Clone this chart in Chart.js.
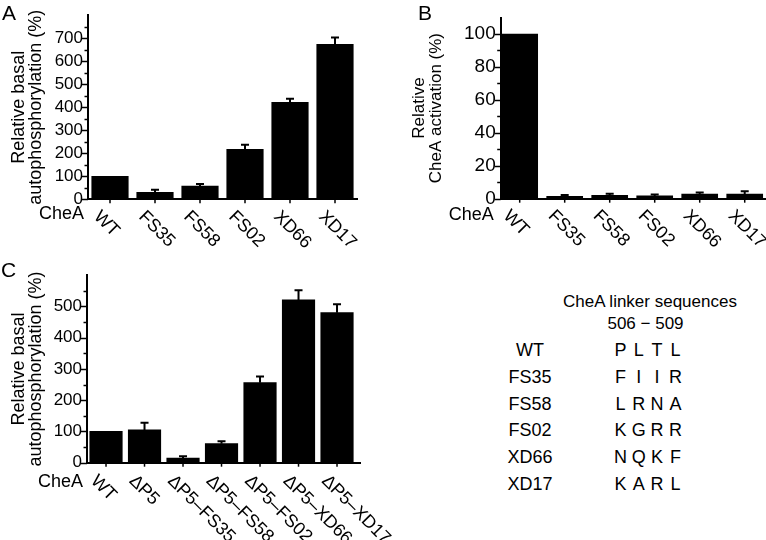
<!DOCTYPE html>
<html><head><meta charset="utf-8">
<script src="https://cdn.jsdelivr.net/npm/chart.js@4.4.1/dist/chart.umd.min.js"></script>
<style>
html,body{margin:0;padding:0;background:#fff;}
#wrap{position:relative;width:766px;height:540px;overflow:hidden;font-family:'Liberation Sans',Arial,sans-serif;color:#000;}
canvas{position:absolute;}
.t{position:absolute;white-space:nowrap;}
</style></head><body><div id="wrap">
<canvas id="cA" width="372" height="262" style="left:0;top:0"></canvas>
<canvas id="cB" width="386" height="262" style="left:380px;top:0"></canvas>
<canvas id="cC" width="420" height="280" style="left:0;top:260px"></canvas>
</div>
<script>
// ---- data ----
const panelACategories = ['WT', 'FS35', 'FS58', 'FS02', 'XD66', 'XD17'];
const panelAValues = [100, 30, 57, 217, 421, 673];
const panelAErrors = [0, 12, 9, 20, 16, 30];

const panelBCategories = ['WT', 'FS35', 'FS58', 'FS02', 'XD66', 'XD17'];
const panelBValues = [100, 1.5, 2.0, 1.7, 2.8, 2.8];
const panelBErrors = [0, 0.8, 1.0, 0.8, 0.9, 1.7];

const panelCCategories = ['WT', 'ΔP5', 'ΔP5–FS35', 'ΔP5–FS58', 'ΔP5–FS02', 'ΔP5–XD66', 'ΔP5–XD17'];
const panelCValues = [100, 105, 15, 61, 256, 521, 480];
const panelCErrors = [0, 23, 6, 8, 20, 31, 27];

const axisPrefix = 'CheA';
const panelLetters = ['A', 'B', 'C'];
const titleA = ['Relative basal', 'autophosphorylation (%)'];
const titleB = ['Relative', 'CheA activation (%)'];
const titleC = ['Relative basal', 'autophosphorylation (%)'];

const tableHeader = 'CheA linker sequences';
const tableRange = '506 − 509';
const tableNames = ['WT', 'FS35', 'FS58', 'FS02', 'XD66', 'XD17'];
const tableSeqs = ['PLTL', 'FIIR', 'LRNA', 'KGRR', 'NQKF', 'KARL'];

// ---- rendering ----
const FONT = "'Liberation Sans', Arial, sans-serif";
Chart.defaults.font.family = FONT;
Chart.defaults.color = '#000';

const decor = {
  id: 'decor',
  afterDatasetsDraw(chart, args, o) {
    const {ctx, chartArea: ca, scales: {x, y}} = chart;
    const meta = chart.getDatasetMeta(0);
    ctx.save();
    ctx.strokeStyle = '#000';
    ctx.fillStyle = '#000';
    // error bars
    ctx.lineWidth = 2;
    meta.data.forEach((bar, i) => {
      const e = o.errors[i];
      if (!e) return;
      const v = o.values[i];
      const y0 = y.getPixelForValue(v), y1 = y.getPixelForValue(v + e);
      ctx.beginPath();
      ctx.moveTo(bar.x, y0); ctx.lineTo(bar.x, y1);
      ctx.moveTo(bar.x - 4, y1); ctx.lineTo(bar.x + 4, y1);
      ctx.stroke();
    });
    // y tick marks
    ctx.lineWidth = 1.5;
    for (let v = 0; v < o.yMax - 1e-9; v += o.minor) {
      const len = (Math.abs(v % o.major) < 1e-9) ? 6 : 3.5;
      const py = Math.round(y.getPixelForValue(v)) + 0.5;
      ctx.beginPath(); ctx.moveTo(ca.left - len, py); ctx.lineTo(ca.left, py); ctx.stroke();
    }
    // x tick marks + rotated labels
    ctx.font = o.labelSize + 'px ' + FONT;
    ctx.textAlign = 'left';
    ctx.textBaseline = 'alphabetic';
    o.labels.forEach((lab, i) => {
      const px = x.getPixelForValue(i);
      ctx.beginPath(); ctx.moveTo(px, ca.bottom); ctx.lineTo(px, ca.bottom + 4); ctx.stroke();
      ctx.save();
      ctx.translate(px + o.ldx, ca.bottom + o.ldy);
      ctx.rotate(Math.PI / 4);
      ctx.fillText(lab, 0, 0.716 * o.labelSize);
      ctx.restore();
    });
    // CheA prefix
    ctx.font = '18px ' + FONT;
    ctx.textAlign = 'right';
    ctx.fillText(axisPrefix, ca.left + o.cdx, ca.bottom + o.cdy);
    ctx.restore();
  }
};

function makePanel(id, c) {
  return new Chart(document.getElementById(id), {
    type: 'bar',
    data: {
      datasets: [{
        data: c.values.map((v, i) => ({x: i, y: v})),
        backgroundColor: '#000',
        borderWidth: 0,
        barThickness: c.barW
      }]
    },
    options: {
      responsive: false,
      animation: false,
      devicePixelRatio: 1,
      layout: {padding: {top: c.padTop, right: c.padRight, left: 0, bottom: 0}},
      plugins: {
        legend: {display: false},
        tooltip: {enabled: false},
        decor: {
          values: c.values, errors: c.errors, labels: c.labels,
          yMax: c.yMax, minor: c.minor, major: c.major, labelSize: c.labelSize,
          ldx: c.ldx, ldy: c.ldy, cdx: c.cdx, cdy: c.cdy
        }
      },
      scales: {
        x: {
          type: 'linear', min: c.xMin, max: c.xMax, offset: false,
          grid: {display: false, drawTicks: false, offset: false},
          border: {display: true, color: '#000', width: 2},
          ticks: {display: false},
          afterFit: s => { s.height = c.xH; }
        },
        y: {
          type: 'linear', min: 0, max: c.yMax,
          grid: {display: false, drawTicks: false},
          border: {display: true, color: '#000', width: 2},
          ticks: {
            stepSize: c.minor, autoSkip: false, padding: 5, color: '#000',
            font: {size: c.tickSize},
            callback: v => (Math.abs(v % c.major) < 1e-9 && v < c.yMax) ? String(v) : ''
          },
          title: {
            display: true, text: c.title, color: '#000',
            font: {size: c.titleSize, lineHeight: 17 / c.titleSize},
            padding: {top: c.titlePad, bottom: 0}
          },
          afterFit: s => { s.width = c.yW; }
        }
      }
    },
    plugins: [decor]
  });
}

makePanel('cA', {
  values: panelAValues, errors: panelAErrors, labels: panelACategories, title: titleA,
  yMax: 800, minor: 50, major: 100, tickSize: 17, titleSize: 18, labelSize: 18,
  yW: 88, xH: 62.7, padTop: 2.4, padRight: 14.5,
  xMin: -0.489, xMax: 5.5, barW: 36.5, titlePad: 11,
  ldx: -8, ldy: 9, cdx: -4, cdy: 20
});
makePanel('cB', {
  values: panelBValues, errors: panelBErrors, labels: panelBCategories, title: titleB,
  yMax: 110, minor: 10, major: 20, tickSize: 19, titleSize: 17, labelSize: 18,
  yW: 120.7, xH: 63.3, padTop: 17.5, padRight: 0,
  xMin: -0.422, xMax: 5.473, barW: 36, titlePad: 31,
  ldx: -8, ldy: 9, cdx: -7, cdy: 21
});
makePanel('cC', {
  values: panelCValues, errors: panelCErrors, labels: panelCCategories, title: titleC,
  yMax: 600, minor: 50, major: 100, tickSize: 17, titleSize: 18, labelSize: 18,
  yW: 87, xH: 77.3, padTop: 6.3, padRight: 60,
  xMin: -0.494, xMax: 6.597, barW: 32.5, titlePad: 11,
  ldx: -7, ldy: 10, cdx: -4, cdy: 24
});

// ---- HTML text: panel letters and sequence table ----
const wrap = document.getElementById('wrap');
function addText(str, x, baseline, fs, align) {
  const d = document.createElement('div');
  d.className = 't';
  d.textContent = str;
  d.style.fontSize = fs + 'px';
  d.style.lineHeight = (fs * 1.117) + 'px';
  d.style.top = (baseline - 0.905 * fs) + 'px';
  d.style.left = x + 'px';
  if (align === 'center') d.style.transform = 'translateX(-50%)';
  wrap.appendChild(d);
}
const letterPos = [[2, 20], [418, 20], [1, 277]];
panelLetters.forEach((L, i) => addText(L, letterPos[i][0], letterPos[i][1], 21, 'left'));

addText(tableHeader, 650, 307, 17, 'center');
addText(tableRange, 645.5, 329.5, 17, 'center');
tableNames.forEach((n, r) => {
  const base = 356.7 + r * 26.67;
  addText(n, 530, base, 18, 'center');
  tableSeqs[r].split('').forEach((ch, j) => addText(ch, 620.5 + j * 18.3, base, 18, 'center'));
});
</script>
</body></html>
